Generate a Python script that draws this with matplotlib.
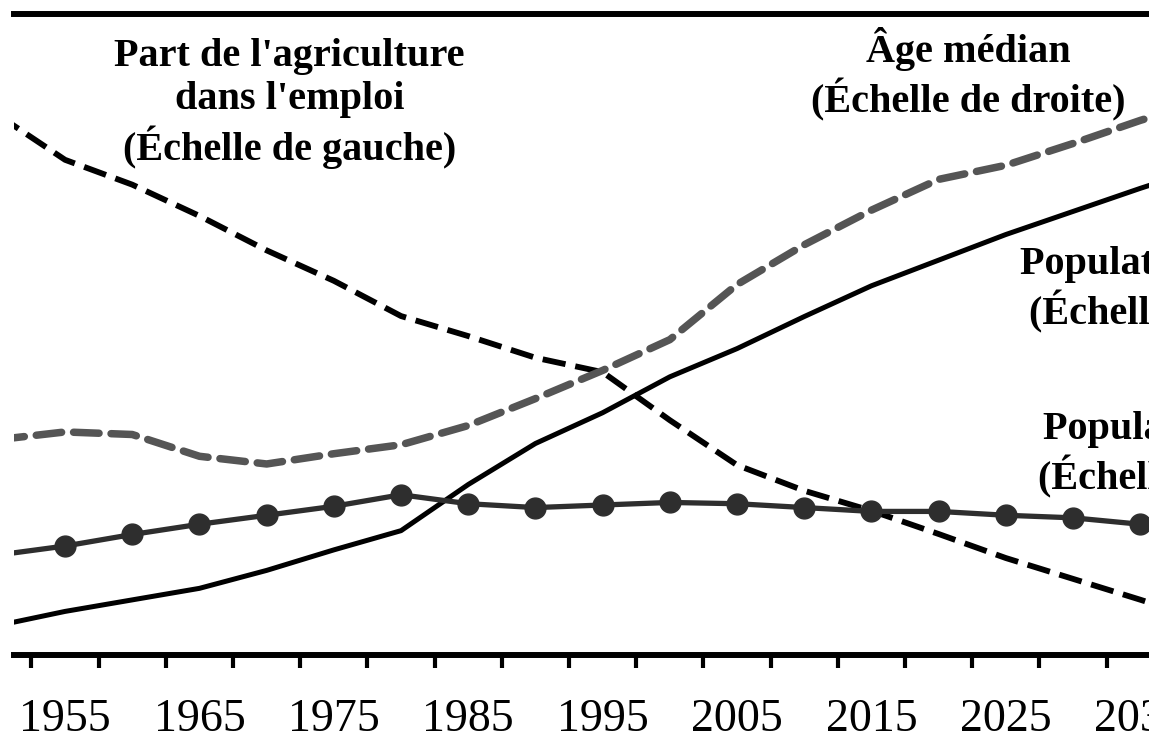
import numpy as np
import matplotlib.pyplot as plt
from matplotlib.ticker import FixedLocator, NullFormatter

# data (5-year steps), left scale in %, right scale arbitrary
years = [1950, 1955, 1960, 1965, 1970, 1975, 1980, 1985, 1990, 1995,
         2000, 2005, 2010, 2015, 2020, 2025, 2030, 2035, 2040]
agri_share = [67.4, 61.8, 58.7, 54.8, 50.5, 46.7, 42.3, 39.8, 37.1, 35.3,
              29.3, 23.7, 20.5, 18.0, 15.1, 12.1, 9.5, 6.9, 4.2]
median_age = [16.8, 17.4, 17.2, 15.5, 14.9, 15.7, 16.4, 17.9, 20.0, 22.2,
              24.6, 28.9, 32.0, 34.7, 37.1, 38.2, 39.9, 41.7, 43.3]
urban_pop = [2.3, 3.4, 4.3, 5.2, 6.6, 8.2, 9.7, 13.3, 16.5, 18.9,
             21.7, 23.9, 26.4, 28.8, 30.8, 32.8, 34.6, 36.4, 38.1]
rural_pop = [7.8, 8.5, 9.4, 10.2, 10.9, 11.6, 12.5, 11.8, 11.5, 11.7,
             11.9, 11.8, 11.5, 11.2, 11.2, 10.9, 10.7, 10.2, 9.8]

label_years = [1955, 1965, 1975, 1985, 1995, 2005, 2015, 2025, 2035]
tick_years = [1952.5 + 5 * i for i in range(18)]

serif = "Liberation Serif"

fig = plt.figure(figsize=(11.49, 7.45), dpi=100)
ax = fig.add_axes([14 / 1149, 1 - 655 / 745, 1 - 14 / 1149, 641 / 745])
ax2 = ax.twinx()

# left scale: agriculture share
ax.plot(years, agri_share, color="black", lw=4.2, dashes=(4.0, 1.7),
        dash_capstyle="butt")

# right scale: median age, urban and rural population
ax2.plot(years, median_age, color="#555555", lw=5.4, dashes=(3.4, 1.6),
         dash_capstyle="round")
ax2.plot(years, urban_pop, color="black", lw=3.6)
ax2.plot(years, rural_pop, color="#2e2e2e", lw=3.8, marker="o", markersize=15)

ax.set_xlim(1951.2, 2035.65)
ax.set_ylim(0, 80)
ax2.set_ylim(0, 50)

for a in (ax, ax2):
    a.set_yticks([])
    for s in a.spines.values():
        s.set_visible(False)
ax.spines["top"].set_visible(True)
ax.spines["bottom"].set_visible(True)
ax.spines["top"].set_linewidth(4.3)
ax.spines["bottom"].set_linewidth(4.3)

ax.xaxis.set_major_locator(FixedLocator(tick_years))
ax.xaxis.set_major_formatter(NullFormatter())
ax.xaxis.set_minor_locator(FixedLocator(label_years))
ax.set_xticklabels([str(y) for y in label_years], minor=True,
                   fontfamily=serif, fontsize=33)
ax.tick_params(axis="x", which="major", direction="out", length=9, width=3)
ax.tick_params(axis="x", which="minor", length=0, pad=31)

txt = dict(fontfamily=serif, fontweight="bold", fontsize=29,
           ha="center", va="center", multialignment="center", linespacing=1.22)
ax.text(1971.7, 68.8, "Part de l'agriculture\ndans l'emploi\n(Échelle de gauche)", **txt)
ax2.text(2022.2, 45.3, "Âge médian\n(Échelle de droite)", **txt)
ax2.text(2038.4, 28.5, "Population urbaine\n(Échelle de droite)", **txt)
ax2.text(2039.1, 15.6, "Population rurale\n(Échelle de droite)", **txt)

fig.savefig("out.png", dpi=100)
